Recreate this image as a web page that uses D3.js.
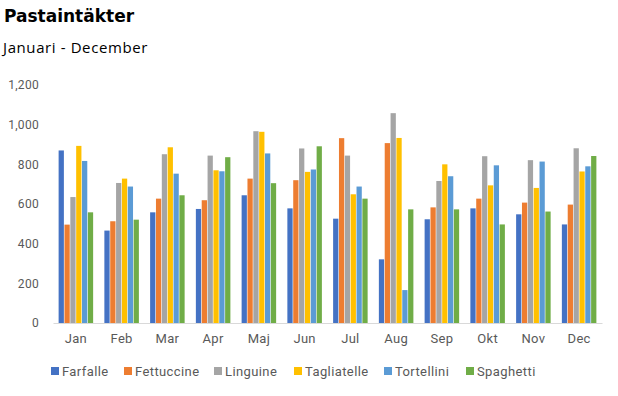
<!DOCTYPE html>
<html>
<head>
    <meta charset="UTF-8">
    <title>Pastaintäkter</title>
    <script src="https://d3js.org/d3.v7.min.js"></script>
    <style>
        body { margin: 0; padding: 0; background: #fff; }
        svg { display: block; }
        .title { font: 700 17px "DejaVu Sans", sans-serif; fill: #000; }
        .subtitle { font: 400 15px "Open Sans", sans-serif; fill: #000; letter-spacing: 0.6px; }
        .tick text { font: 12px "Roboto", sans-serif; fill: #595959; letter-spacing: 0.3px; }
        .legend text { font: 13px "Roboto", sans-serif; fill: #595959; letter-spacing: 0.4px; }
    </style>
</head>
<body>
<svg width="618" height="396"></svg>
<script>
    // data
    const months = ["Jan", "Feb", "Mar", "Apr", "Maj", "Jun", "Jul", "Aug", "Sep", "Okt", "Nov", "Dec"];
    const seriesNames = ["Farfalle", "Fettuccine", "Linguine", "Tagliatelle", "Tortellini", "Spaghetti"];
    const farfalle    = [870, 466, 558, 575, 644, 578, 526, 321, 523, 578, 548, 497];
    const fettuccine  = [496, 513, 627, 619, 728, 720, 932, 907, 583, 627, 607, 597];
    const linguine    = [635, 706, 851, 844, 967, 880, 844, 1058, 716, 841, 821, 881];
    const tagliatelle = [893, 728, 886, 770, 964, 762, 649, 933, 800, 694, 681, 764];
    const tortellini  = [817, 688, 753, 765, 855, 774, 688, 166, 740, 795, 814, 790];
    const spaghetti   = [558, 521, 644, 836, 705, 891, 627, 573, 573, 497, 562, 842];
    const yTicks = [0, 200, 400, 600, 800, 1000, 1200];

    const colors = ["#4472C4", "#ED7D31", "#A5A5A5", "#FFC000", "#5B9BD5", "#70AD47"];
    const values = [farfalle, fettuccine, linguine, tagliatelle, tortellini, spaghetti];

    const svg = d3.select("svg");
    const margin = {left: 53, right: 16, top: 85, bottom: 73};
    const width = 618, height = 396;

    // rubriker
    svg.append("text").attr("class", "title").attr("x", 4).attr("y", 22).text("Pastaintäkter");
    svg.append("text").attr("class", "subtitle").attr("x", 3).attr("y", 53).text("Januari - December");

    const x = d3.scaleBand()
        .domain(months)
        .range([margin.left, width - margin.right])
        .paddingInner(0.22)
        .paddingOuter(0.11);

    const xSub = d3.scaleBand()
        .domain(seriesNames)
        .range([0, x.bandwidth()])
        .padding(0.1);

    const y = d3.scaleLinear()
        .domain([0, 1200])
        .range([height - margin.bottom, margin.top]);

    // y-axel
    svg.append("g")
        .attr("transform", `translate(${margin.left - 11},0)`)
        .call(d3.axisLeft(y).tickValues(yTicks).tickFormat(d3.format(",")).tickSize(0))
        .call(g => g.select(".domain").remove());

    // staplar
    const groups = svg.append("g")
        .selectAll("g")
        .data(seriesNames)
        .join("g")
        .attr("fill", (d, i) => colors[i]);

    groups.selectAll("rect")
        .data((s, i) => months.map((m, j) => ({month: m, series: s, value: values[i][j]})))
        .join("rect")
        .attr("x", d => x(d.month) + xSub(d.series))
        .attr("width", xSub.bandwidth())
        .attr("y", d => y(d.value))
        .attr("height", d => y(0) - y(d.value));

    // x-axel
    svg.append("g")
        .attr("transform", `translate(0,${y(0)})`)
        .call(d3.axisBottom(x).tickSize(0).tickPadding(11))
        .call(g => g.select(".domain").attr("stroke", "#d9d9d9"))
        .call(g => g.selectAll(".tick text").style("font-size", "13px"));

    // förklaring
    const legendX = [51, 124, 214, 294, 384, 466];
    const legend = svg.append("g").attr("class", "legend")
        .selectAll("g")
        .data(seriesNames)
        .join("g")
        .attr("transform", (d, i) => `translate(${legendX[i]},371)`);

    legend.append("rect")
        .attr("y", -4).attr("width", 8).attr("height", 8)
        .attr("fill", (d, i) => colors[i]);

    legend.append("text")
        .attr("x", 11)
        .attr("dy", "0.35em")
        .text(d => d);
</script>
</body>
</html>
